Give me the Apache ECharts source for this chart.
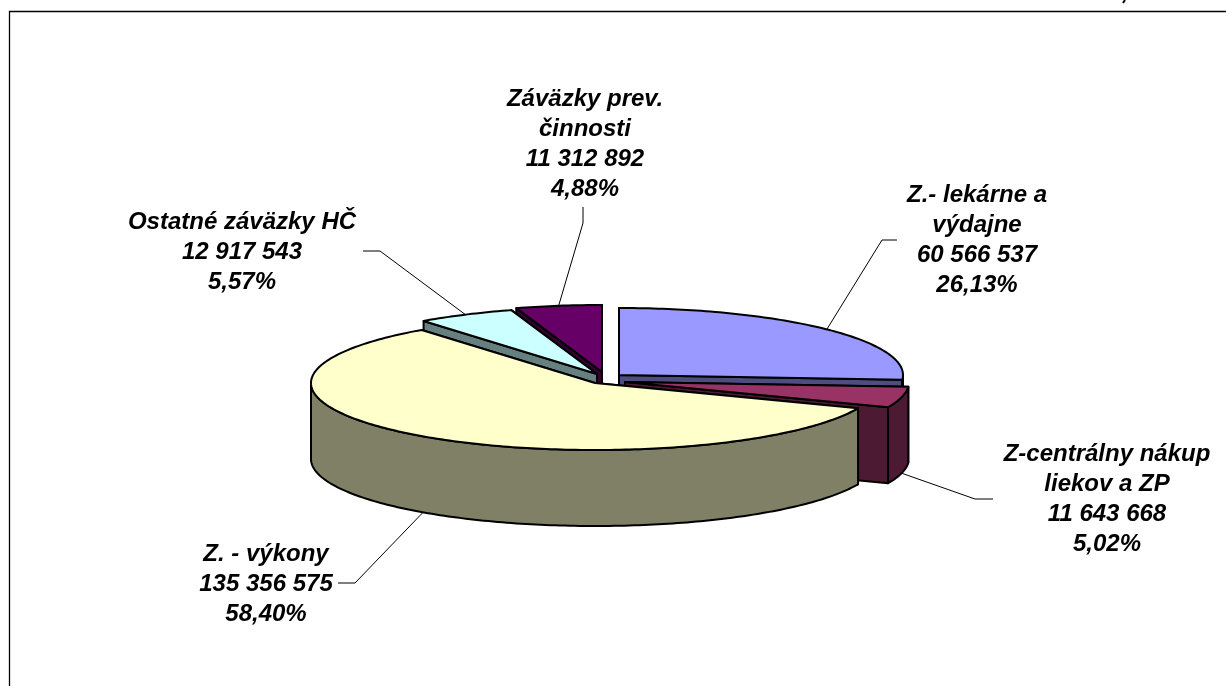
<!DOCTYPE html>
<html>
<head>
<meta charset="utf-8">
<style>
  html, body { margin: 0; padding: 0; background: #fff; }
  #chart { width: 1226px; height: 686px; }
</style>
<script src="https://cdn.jsdelivr.net/npm/echarts@6/dist/echarts.min.js"></script>
</head>
<body>
<div id="chart"></div>
<script>
const names = ["Z.- lekárne a\nvýdajne", "Z-centrálny nákup\nliekov a ZP", "Z. - výkony", "Ostatné záväzky HČ", "Záväzky prev.\nčinnosti"];
const values = [60566537, 11643668, 135356575, 12917543, 11312892];
const percents = ["26,13%", "5,02%", "58,40%", "5,57%", "4,88%"];

const topColors = ["#9999ff", "#993366", "#ffffcc", "#ccffff", "#660066"];
const wallColors = ["#4d4d80", "#4d1a33", "#808066", "#668080", "#330033"];

// back slices first, the big front one last
const paintOrder = [4, 3, 0, 1, 2];

// fake 3D pie: ellipse + extruded wall
const center = [606, 378];
const rx = 284;
const ry = 67;
const depth = 76;
const explode = [[13, -3], [19, 4], [-11, 5], [-9, -4], [-4, -6]];
const FONT = 'italic bold 24px "Liberation Sans", Arial, sans-serif';

const labelPos = [[977, 240], [1107, 499], [266, 584], [242, 252], [585, 144]];
const leaderEnd = [[[882, 240], [897, 240]], [[975, 499], [993, 499]], [[355, 583], [338, 583]], [[380, 251], [363, 251]], [[583, 223], [583, 207]]];

const total = values.reduce((a, b) => a + b, 0);
const angles = [];
let acc = 0;
values.forEach((v) => {
  angles.push([(acc / total) * 360, ((acc + v) / total) * 360]);
  acc += v;
});

const formatValue = (v) => String(v).replace(/\B(?=(\d{3})+$)/g, " ");

const apexOf = (i) => [center[0] + explode[i][0], center[1] + explode[i][1]];

const rimPoint = (apex, deg) => {
  const a = deg * Math.PI / 180;
  return [apex[0] + rx * Math.sin(a), apex[1] - ry * Math.cos(a)];
};

const arcPoints = (apex, from, to) => {
  const pts = [];
  const steps = Math.max(2, Math.ceil(to - from));
  for (let k = 0; k <= steps; k++) pts.push(rimPoint(apex, from + ((to - from) * k) / steps));
  return pts;
};

const down = (p) => [p[0], p[1] + depth];

const face = (points, fill) => ({
  type: "polygon",
  shape: { points },
  style: { fill, stroke: "#000", lineWidth: 2, lineJoin: "round" }
});

const renderSlice = (params, api) => {
  const i = api.value(0);
  const [a0, a1] = angles[i];
  const apex = apexOf(i);
  const children = [];

  // cut faces, the one further back first
  [a0, a1]
    .slice()
    .sort((p, q) => Math.cos((q * Math.PI) / 180) - Math.cos((p * Math.PI) / 180))
    .forEach((deg) => {
      const rim = rimPoint(apex, deg);
      children.push(face([apex, rim, down(rim), down(apex)], wallColors[i]));
    });

  // outer wall, only the part facing the viewer
  const w0 = Math.max(a0, 90);
  const w1 = Math.min(a1, 270);
  if (w1 > w0) {
    const arc = arcPoints(apex, w0, w1);
    children.push(face(arc.concat(arc.map(down).reverse()), wallColors[i]));
  }

  // top
  children.push(face([apex].concat(arcPoints(apex, a0, a1)), topColors[i]));

  // leader line starts on the rim at the slice's mid angle
  const mid = (a0 + a1) / 2;
  let start = rimPoint(apex, mid);
  if (Math.cos((mid * Math.PI) / 180) < 0) start = down(start);
  children.push({
    type: "polyline",
    shape: { points: [start].concat(leaderEnd[i]) },
    style: { fill: "none", stroke: "#000", lineWidth: 1 },
    z2: 5
  });

  children.push({
    type: "text",
    style: {
      text: names[i] + "\n" + formatValue(values[i]) + "\n" + percents[i],
      x: labelPos[i][0],
      y: labelPos[i][1],
      align: "center",
      verticalAlign: "middle",
      font: FONT,
      lineHeight: 30,
      fill: "#000"
    },
    z2: 6
  });

  return { type: "group", children };
};

const chart = echarts.init(document.getElementById("chart"), null, { renderer: "canvas" });
chart.setOption({
  animation: false,
  backgroundColor: "#fff",
  graphic: [
    {
      type: "polyline",
      silent: true,
      shape: { points: [[9.5, 686], [9.5, 11.5], [1226, 11.5]] },
      style: { fill: "none", stroke: "#000", lineWidth: 1.3 }
    },
    {
      type: "line",
      silent: true,
      shape: { x1: 1125, y1: 0, x2: 1123, y2: 3 },
      style: { stroke: "#000", lineWidth: 2 }
    }
  ],
  series: [
    {
      type: "custom",
      coordinateSystem: "none",
      silent: true,
      clip: false,
      renderItem: renderSlice,
      data: paintOrder.map((i) => [i, values[i]])
    }
  ]
});
window.addEventListener("resize", () => chart.resize());
</script>
</body>
</html>
